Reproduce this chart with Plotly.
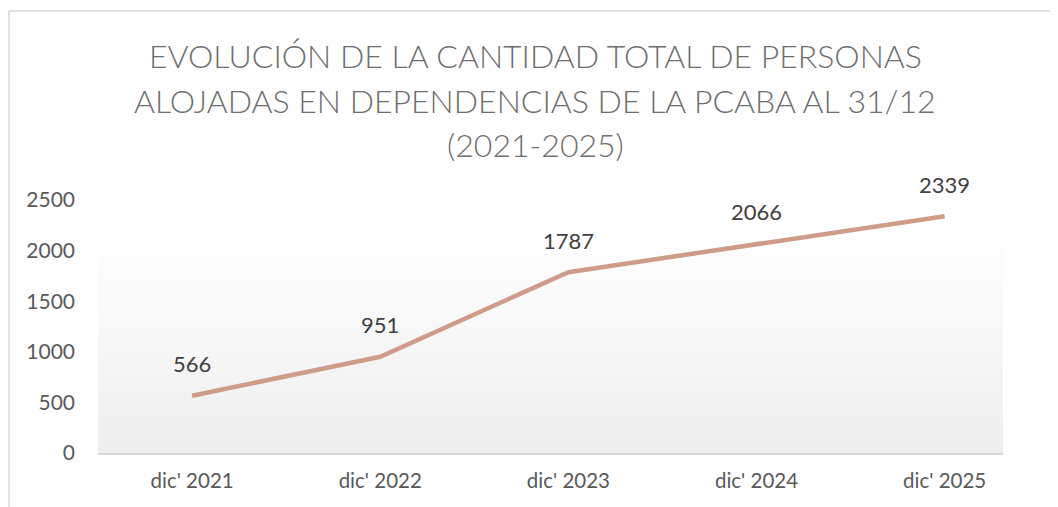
import plotly.graph_objects as go

categories = ["dic' 2021", "dic' 2022", "dic' 2023", "dic' 2024", "dic' 2025"]
values = [566, 951, 1787, 2066, 2339]
y_ticks = [0, 500, 1000, 1500, 2000, 2500]
title_lines = ["EVOLUCIÓN DE LA CANTIDAD TOTAL DE PERSONAS",
               "ALOJADAS EN DEPENDENCIAS DE LA PCABA AL 31/12",
               "(2021-2025)"]

# page offset (default body margin of the html page)
OFF = 8
W, H = 1058, 507
L = 98 - OFF
T = 200 - OFF
plot_bottom = 453 - OFF
plot_right = 1003 - OFF
B = H - plot_bottom
R = W - plot_right
plot_h = plot_bottom - T
plot_w = plot_right - L

def py(p):
    return (plot_bottom - (p - OFF)) / plot_h

def px(p):
    return ((p - OFF) - L) / plot_w

xidx = list(range(len(categories)))
x_lo, x_hi = -0.5, 4.31

fig = go.Figure()

# gradient plot-area background
fig.add_trace(go.Scatter(
    x=[x_lo, x_hi, x_hi, x_lo, x_lo], y=[0, 0, 2175, 2175, 0],
    fill="toself", mode="none", hoverinfo="skip", showlegend=False,
    fillgradient=dict(type="vertical",
                      colorscale=[[0, "#eeeeee"], [1, "#ffffff"]]),
))

fig.add_trace(go.Scatter(
    x=xidx, y=values, mode="lines",
    line=dict(color="#D09C8A", width=4.5),
    showlegend=False, hoverinfo="skip",
))

for xi, v in zip(xidx, values):
    fig.add_annotation(x=xi, y=v, text=str(v), showarrow=False,
                       yshift=32, font=dict(size=22, color="#404040"))

for line, ypix in zip(title_lines, [55, 100, 145]):
    fig.add_annotation(xref="paper", yref="paper", x=px(535), y=py(ypix),
                       text=line, showarrow=False, xanchor="center", yanchor="middle",
                       font=dict(size=32, color="#6e6e6e", weight=300))

# chart border
fig.add_shape(type="rect", xref="paper", yref="paper",
              x0=px(9), x1=px(1075), y0=py(11), y1=py(525),
              line=dict(color="#d9d9d9", width=1.5), fillcolor="rgba(0,0,0,0)", layer="below")

fig.update_layout(
    width=W, height=H,
    margin=dict(l=L, r=R, t=T, b=B, pad=0),
    paper_bgcolor="white", plot_bgcolor="white",
    font=dict(family="Lato, Carlito, sans-serif", color="#595959", size=21),
    xaxis=dict(tickmode="array", tickvals=xidx, ticktext=categories,
               range=[x_lo, x_hi], showgrid=False, zeroline=False,
               showline=True, linecolor="#d9d9d9", linewidth=1.5,
               ticks="", ticklen=0, ticklabelstandoff=9,
               tickfont=dict(size=20.5, color="#595959")),
    yaxis=dict(tickmode="array", tickvals=y_ticks, range=[0, 2500],
               showgrid=False, zeroline=False, showline=False, ticks="",
               ticklabelstandoff=22,
               tickfont=dict(size=21, color="#595959")),
    showlegend=False,
)

fig.write_html("out.html")
